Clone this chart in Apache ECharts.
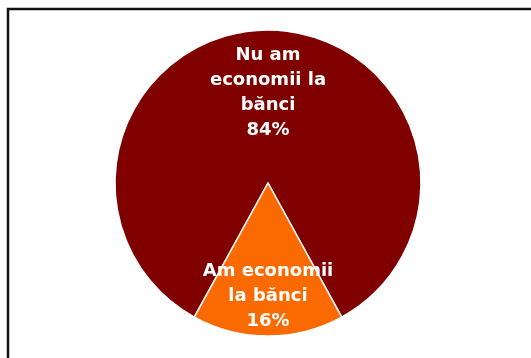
<!DOCTYPE html>
<html>
<head>
<meta charset="utf-8">
<style>
  html, body { margin: 0; padding: 0; background: #fff; overflow: hidden; }
  #chart { width: 531px; height: 358px; }
</style>
<script src="https://cdn.jsdelivr.net/npm/echarts@6/dist/echarts.min.js"></script>
</head>
<body>
<div id="chart"></div>
<script>
// Savings in banks: share of respondents
const categories = ['Nu am\neconomii la\nbănci', 'Am economii\nla bănci'];
const shares = [84, 16];
const colors = ['#800000', '#FA6A00'];
// vertical nudge of each label from its 'inner' spot
const labelShift = [-11, 34];

const chart = echarts.init(document.getElementById('chart'), null, { renderer: 'canvas' });

chart.setOption({
  animation: false,
  backgroundColor: '#ffffff',
  graphic: [{
    type: 'rect',
    shape: { x: 8, y: 9, width: 600, height: 420 },
    style: { fill: 'none', stroke: '#111111', lineWidth: 2.5 },
    silent: true
  }],
  series: [{
    type: 'pie',
    center: [268, 183],
    radius: [0, 153],
    startAngle: 241.2,
    clockwise: true,
    avoidLabelOverlap: false,
    itemStyle: { borderColor: '#ffffff', borderWidth: 1.5 },
    emphasis: { disabled: true },
    label: {
      show: true,
      position: 'inner',
      color: '#ffffff',
      fontFamily: 'DejaVu Sans',
      fontWeight: 'bold',
      fontSize: 18,
      lineHeight: 25,
      align: 'center',
      formatter: p => p.name + '\n' + p.value + '%'
    },
    labelLine: { show: false },
    labelLayout: p => ({ dy: labelShift[p.dataIndex] }),
    data: categories.map((name, i) => ({
      name: name,
      value: shares[i],
      itemStyle: { color: colors[i] }
    }))
  }]
});
</script>
</body>
</html>
